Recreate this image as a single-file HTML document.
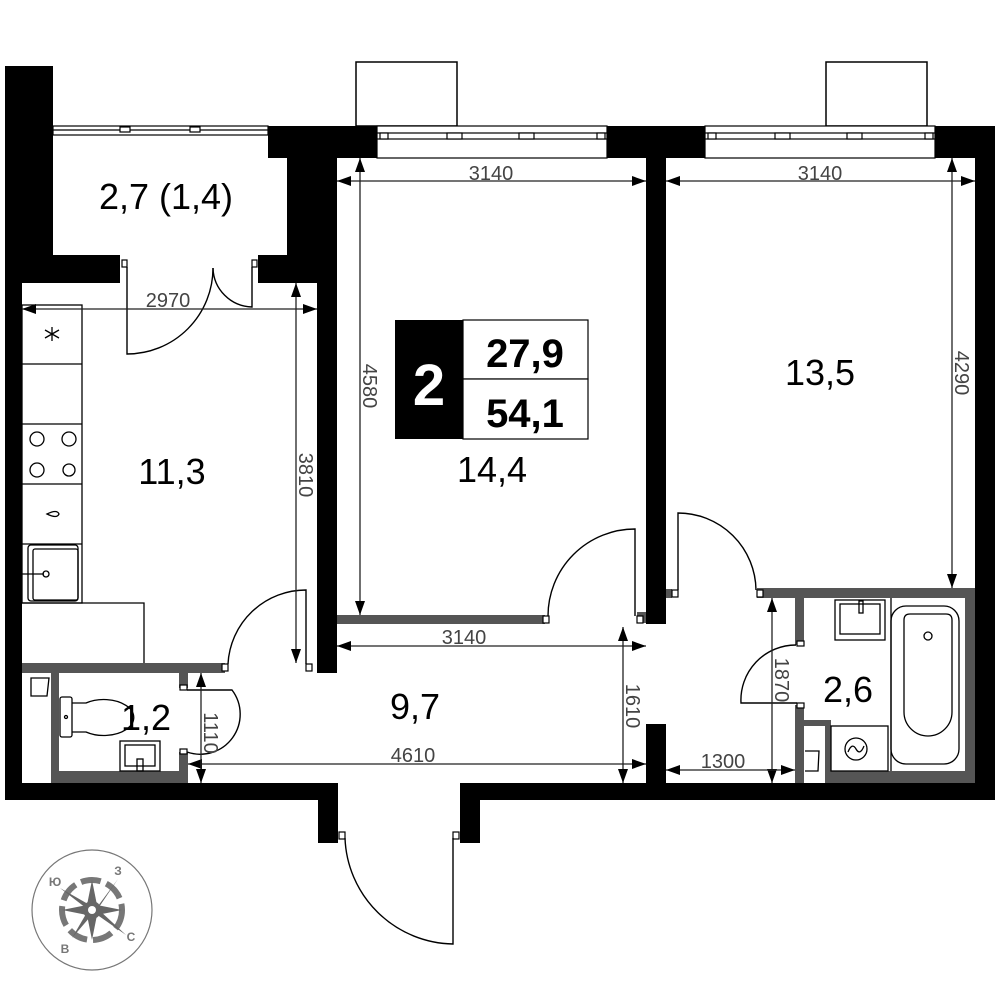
<!DOCTYPE html>
<html><head><meta charset="utf-8"><style>
body{margin:0;background:#fff}
svg{display:block}
text{font-family:"Liberation Sans","DejaVu Sans",sans-serif}
.d{fill:#444;font-size:20px}
.r{fill:#000;font-size:36px}
</style></head><body>
<svg width="1000" height="1000" viewBox="0 0 1000 1000" xmlns="http://www.w3.org/2000/svg">
<defs>
<marker id="a" markerWidth="14" markerHeight="10" refX="14" refY="5" orient="auto-start-reverse" markerUnits="userSpaceOnUse"><path d="M0,0 L14,5 L0,10 Z" fill="#000"/></marker>
</defs>
<rect x="356" y="62" width="101" height="64" fill="#fff" stroke="#000" stroke-width="1.5"/>
<rect x="826" y="62" width="101" height="64" fill="#fff" stroke="#000" stroke-width="1.5"/>
<g fill="#000">
<rect x="5" y="66" width="48" height="217"/>
<rect x="5" y="283" width="17" height="517"/>
<rect x="53" y="255" width="67" height="28"/>
<rect x="258" y="255" width="30" height="28"/>
<rect x="268" y="126" width="109" height="32"/>
<rect x="287" y="126" width="50" height="157"/>
<rect x="317" y="283" width="20" height="390"/>
<rect x="607" y="126" width="98" height="32"/>
<rect x="646" y="126" width="20" height="498"/>
<rect x="646" y="724" width="20" height="76"/>
<rect x="935" y="126" width="60" height="32"/>
<rect x="975" y="126" width="20" height="674"/>
<rect x="5" y="783" width="333" height="17"/>
<rect x="318" y="783" width="20" height="60"/>
<rect x="460" y="783" width="20" height="60"/>
<rect x="460" y="783" width="535" height="17"/>
</g>
<g fill="#fff" stroke="#000" stroke-width="1.2">
<rect x="53" y="126" width="215" height="9"/>
<line x1="53" y1="130" x2="268" y2="130"/>
<rect x="377" y="126" width="230" height="32"/>
<rect x="377" y="133" width="230" height="6"/>
<rect x="705" y="126" width="230" height="32"/>
<rect x="705" y="133" width="230" height="6"/>
<rect x="380" y="133" width="8" height="6"/><rect x="447" y="133" width="15" height="6"/><rect x="519" y="133" width="15" height="6"/><rect x="597" y="133" width="8" height="6"/>
<rect x="708" y="133" width="8" height="6"/><rect x="775" y="133" width="15" height="6"/><rect x="847" y="133" width="15" height="6"/><rect x="925" y="133" width="8" height="6"/>
<rect x="120" y="127" width="10" height="5"/><rect x="190" y="127" width="10" height="5"/>
</g>
<g fill="#555">
<rect x="22" y="663" width="203" height="10"/>
<rect x="51" y="673" width="8" height="110"/>
<rect x="51" y="771" width="136" height="12"/>
<rect x="179" y="673" width="9" height="15"/>
<rect x="179" y="752" width="9" height="31"/>
<rect x="337" y="615" width="208" height="9"/>
<rect x="757" y="588" width="218" height="10"/>
<rect x="795" y="598" width="9" height="47"/>
<rect x="795" y="705" width="9" height="78"/>
<rect x="795" y="720" width="35" height="6"/>
<rect x="825" y="720" width="6" height="63"/>
<rect x="830" y="771" width="145" height="12"/>
<rect x="965" y="598" width="10" height="173"/>
<rect x="637" y="612" width="9" height="11"/>
<rect x="666" y="589" width="6" height="9"/>
</g>
<g fill="#fff" stroke="#000" stroke-width="1.2">
<rect x="122" y="260" width="5" height="7"/><rect x="252" y="260" width="5" height="7"/>
<rect x="222" y="664" width="6" height="7"/><rect x="306" y="664" width="6" height="7"/>
<rect x="180" y="685" width="7" height="5"/><rect x="180" y="749" width="7" height="5"/>
<rect x="543" y="616" width="6" height="7"/><rect x="637" y="616" width="6" height="7"/>
<rect x="672" y="590" width="6" height="7"/><rect x="757" y="590" width="6" height="7"/>
<rect x="797" y="641" width="7" height="5"/><rect x="797" y="703" width="7" height="5"/>
<rect x="339" y="832" width="6" height="7"/><rect x="453" y="832" width="6" height="7"/>
</g>
<g fill="none" stroke="#000" stroke-width="1.4">
<path d="M127,267 L127,354 A86,86 0 0 0 213,268"/>
<path d="M252,267 L252,307 A40,40 0 0 1 213,268"/>
<path d="M228,664 A78,78 0 0 1 306,590 L306,664"/>
<path d="M187,690 L232,690 A40,40 0 0 1 187,752"/>
<path d="M548,616 A87,87 0 0 1 635,529 L635,616"/>
<path d="M678,590 L678,513 A78,78 0 0 1 756,590"/>
<path d="M796,645 A55,55 0 0 0 741,703 L797,703"/>
<path d="M345,838 A110,110 0 0 0 453,944 L453,838"/>
</g>
<g fill="none" stroke="#000" stroke-width="1.3">
<rect x="22" y="305" width="60" height="298"/>
<line x1="22" y1="364" x2="82" y2="364"/><line x1="22" y1="424" x2="82" y2="424"/><line x1="22" y1="484" x2="82" y2="484"/><line x1="22" y1="544" x2="82" y2="544"/>
<polyline points="22,603 144,603 144,663"/>
<circle cx="37" cy="439" r="7"/><circle cx="69" cy="439" r="7"/><circle cx="37" cy="470" r="7"/><circle cx="69" cy="470" r="6"/>
<path d="M47,514 q10,-5 12,0 q-2,5 -12,0z"/>
<rect x="28" y="545" width="50" height="56" rx="3"/>
<rect x="33" y="549" width="45" height="51" rx="2"/>
<line x1="22" y1="574" x2="44" y2="574"/><circle cx="46" cy="574" r="3"/>
<path d="M52,327 L52,341 M45,330 L59,338 M45,338 L59,330"/>
<rect x="60" y="697" width="12" height="40" rx="2"/>
<path d="M72,703 L86,703 A30,18 0 1 1 86,732 L72,732"/>
<circle cx="66" cy="717" r="1.5"/>
<rect x="120" y="741" width="40" height="30"/><rect x="125" y="745" width="30" height="21"/><rect x="137" y="759" width="6" height="12"/>
<path d="M31,678 L49,678 L47,696 L31,696 Z"/>
<rect x="835" y="600" width="50" height="40"/><rect x="840" y="604" width="40" height="30"/><rect x="859" y="601" width="4" height="12"/>
<rect x="891" y="606" width="68" height="158" rx="15"/>
<path d="M904,620 q0,-6 6,-6 h36 q6,0 6,6 v92 a24,24 0 0 1 -48,0 z"/>
<circle cx="928" cy="636" r="4"/>
<line x1="891" y1="598" x2="891" y2="771"/>
<rect x="831" y="726" width="57" height="45"/>
<circle cx="856" cy="749" r="11"/><path d="M848,752 q4,-10 8,-3 q4,7 8,-3"/>
<path d="M805,751 L819,751 L818,771 L805,771"/>
</g>
<g stroke="#222" stroke-width="1.3" fill="none" marker-start="url(#a)" marker-end="url(#a)">
<line x1="337" y1="181" x2="646" y2="181"/>
<line x1="666" y1="181" x2="975" y2="181"/>
<line x1="360" y1="158" x2="360" y2="615"/>
<line x1="952" y1="158" x2="952" y2="588"/>
<line x1="22" y1="309" x2="317" y2="309"/>
<line x1="296" y1="283" x2="296" y2="663"/>
<line x1="337" y1="646" x2="646" y2="646"/>
<line x1="623" y1="627" x2="623" y2="783"/>
<line x1="188" y1="764" x2="646" y2="764"/>
<line x1="201" y1="673" x2="201" y2="783"/>
<line x1="772" y1="598" x2="772" y2="783"/>
<line x1="666" y1="770" x2="795" y2="770"/>
</g>
<g class="d">
<text x="491" y="180" text-anchor="middle">3140</text>
<text x="820" y="180" text-anchor="middle">3140</text>
<text x="168" y="307" text-anchor="middle">2970</text>
<text x="464" y="644" text-anchor="middle">3140</text>
<text x="413" y="762" text-anchor="middle">4610</text>
<text x="723" y="768" text-anchor="middle">1300</text>
<text transform="translate(363,386) rotate(90)" text-anchor="middle">4580</text>
<text transform="translate(955,373) rotate(90)" text-anchor="middle">4290</text>
<text transform="translate(299,475) rotate(90)" text-anchor="middle">3810</text>
<text transform="translate(626,706) rotate(90)" text-anchor="middle">1610</text>
<text transform="translate(204,733) rotate(90)" text-anchor="middle">1110</text>
<text transform="translate(775,680) rotate(90)" text-anchor="middle">1870</text>
</g>
<g class="r" text-anchor="middle">
<text x="166" y="209">2,7 (1,4)</text>
<text x="172" y="484">11,3</text>
<text x="492" y="482">14,4</text>
<text x="820" y="385">13,5</text>
<text x="415" y="719">9,7</text>
<text x="146" y="730">1,2</text>
<text x="848" y="702">2,6</text>
</g>
<rect x="395" y="320" width="68" height="119" fill="#000"/>
<rect x="463" y="320" width="125" height="59" fill="#fff" stroke="#000" stroke-width="1.2"/>
<rect x="463" y="379" width="125" height="60" fill="#fff" stroke="#000" stroke-width="1.2"/>
<text x="429" y="405" text-anchor="middle" fill="#fff" font-size="58" font-weight="bold">2</text>
<text x="525" y="367" text-anchor="middle" font-size="40" font-weight="bold">27,9</text>
<text x="525" y="427" text-anchor="middle" font-size="40" font-weight="bold">54,1</text>
<g stroke="#777" fill="none">
<circle cx="92" cy="910" r="60" stroke-width="1.2"/>
<circle cx="92" cy="910" r="30" stroke-width="6" stroke-dasharray="20 6"/>
</g>
<g fill="#666">
<polygon points="118,879 98,906 95,913"/>
<polygon points="60,888 88,904 86,908"/>
<polygon points="72,938 86,914 90,917"/>
<polygon points="126,935 96,914 99,910"/>
<polygon points="92,880 97,905 87,905"/><polygon points="92,940 97,915 87,915"/>
<polygon points="62,910 87,905 87,915"/><polygon points="122,910 97,905 97,915"/>
<circle cx="92" cy="910" r="9"/>
</g>
<circle cx="92" cy="910" r="4" fill="#fff"/>
<g fill="#777" font-size="12" font-weight="bold" text-anchor="middle">
<text x="118" y="875">З</text><text x="55" y="886">Ю</text><text x="65" y="953">В</text><text x="131" y="941">С</text>
</g>
</svg>
</body></html>
